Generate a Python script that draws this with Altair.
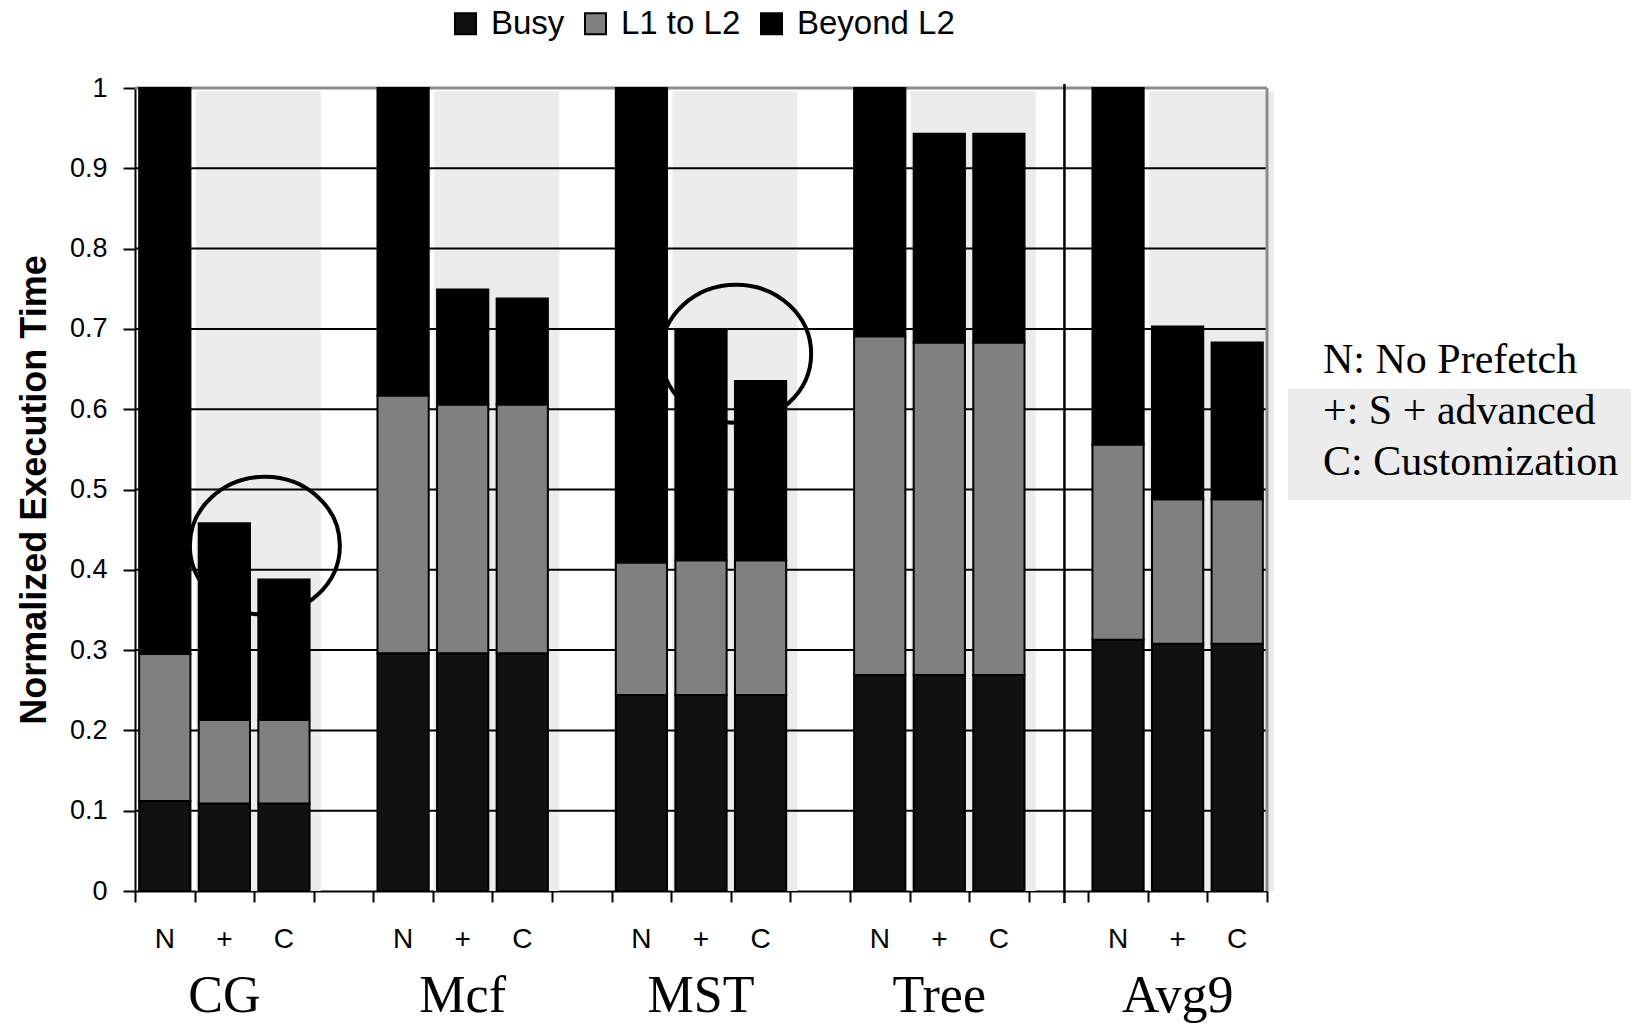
import altair as alt
import pandas as pd

# ---------------- data ----------------
groups = ["CG", "Mcf", "MST", "Tree", "Avg9"]
variants = ["N", "+", "C"]
series = ["Busy", "L1 to L2", "Beyond L2"]
series_colors = ["#111111", "#808080", "#000000"]

busy = [[0.112, 0.109, 0.109], [0.296, 0.296, 0.296], [0.244, 0.244, 0.244],
        [0.269, 0.269, 0.269], [0.313, 0.308, 0.308]]
l1_to_l2 = [[0.183, 0.104, 0.104], [0.321, 0.310, 0.310], [0.165, 0.168, 0.168],
            [0.422, 0.414, 0.414], [0.243, 0.180, 0.180]]
beyond_l2 = [[0.705, 0.245, 0.175], [0.383, 0.143, 0.132], [0.591, 0.288, 0.223],
             [0.309, 0.260, 0.260], [0.444, 0.215, 0.195]]

y_ticks = [0, 0.1, 0.2, 0.3, 0.4, 0.5, 0.6, 0.7, 0.8, 0.9, 1]
notes = ["N: No Prefetch", "+: S + advanced", "C: Customization"]

# highlighted regions (ellipses): centre in slot / value units
highlight_x = [2.18, 10.09]
highlight_y = [0.43, 0.669]

# ---------------- layout helpers ----------------
W, H = 1132, 803
SLOTS_PER_GROUP = 4
N_SLOTS = len(groups) * SLOTS_PER_GROUP - 1
FONT = "Liberation Sans"
SERIF = "Liberation Serif"

rows = []
labels = []
for gi, g in enumerate(groups):
    for vi, v in enumerate(variants):
        slot = gi * SLOTS_PER_GROUP + vi
        base = 0.0
        for s, vals in zip(series, [busy, l1_to_l2, beyond_l2]):
            val = vals[gi][vi]
            rows.append({"group": g, "variant": v, "series": s,
                         "x0": slot + 0.07, "x1": slot + 0.93,
                         "y0": base, "y1": base + val})
            base += val
        labels.append({"xc": slot + 0.5, "label": v})
bars = pd.DataFrame(rows)
var_labels = pd.DataFrame(labels)
group_labels = pd.DataFrame({"xc": [gi * SLOTS_PER_GROUP + 1.5 for gi in range(len(groups))],
                             "label": groups})
shade = pd.DataFrame({"xs": [gi * SLOTS_PER_GROUP + 1.02 for gi in range(len(groups))],
                      "xe": [gi * SLOTS_PER_GROUP + 3.12 for gi in range(len(groups))],
                      "ys": [0.0] * len(groups), "ye": [0.996] * len(groups)})
grid = pd.DataFrame({"y": [t for t in y_ticks if 0 < t < 1]})
top_line = pd.DataFrame({"y": [y_ticks[-1]]})
right_line = pd.DataFrame({"x": [N_SLOTS]})
sep = pd.DataFrame({"x": [(len(groups) - 1) * SLOTS_PER_GROUP - 0.4]})
ell = pd.DataFrame({"x": highlight_x, "y": highlight_y})
one = pd.DataFrame({"a": [0]})

xscale = alt.Scale(domain=[0, N_SLOTS], nice=False, zero=False)
yscale = alt.Scale(domain=[0, 1], nice=False)
xaxis = alt.Axis(values=list(range(N_SLOTS + 1)), labels=False, tickSize=11, tickWidth=2,
                 tickColor="black", domainColor="black", domainWidth=2, grid=False, title=None)
yaxis = alt.Axis(values=y_ticks, format=".1~f", labelFontSize=27, labelFont=FONT,
                 labelColor="black", labelPadding=16, tickSize=12, tickWidth=2,
                 tickColor="black", domainColor="black", domainWidth=2, grid=False,
                 title="Normalized Execution Time", titleFont=FONT, titleFontSize=36,
                 titleFontWeight="bold", titleColor="black", titlePadding=16)


def X(f):
    return alt.X(f, type="quantitative", scale=xscale, axis=xaxis)


def Y(f):
    return alt.Y(f, type="quantitative", scale=yscale, axis=yaxis)


shade_layer = alt.Chart(shade).mark_rect(fill="#ececec").encode(
    x=X("xs"), x2="xe", y=Y("ys"), y2="ye")

grid_layer = alt.Chart(grid).mark_rule(color="black", strokeWidth=2).encode(
    y=Y("y"), x=alt.value(0), x2=alt.value(W))

top_layer = alt.Chart(top_line).mark_rule(color="#8c8c8c", strokeWidth=3).encode(
    y=Y("y"), x=alt.value(0), x2=alt.value(W))

right_layer = alt.Chart(right_line).mark_rule(color="#8c8c8c", strokeWidth=3).encode(
    x=X("x"), y=alt.value(0), y2=alt.value(H))

sep_layer = alt.Chart(sep).mark_rule(color="black", strokeWidth=2.5).encode(
    x=X("x"), y=alt.value(-4), y2=alt.value(H + 12))

ellipse_path = "M -1 0 A 1 0.92 0 1 0 1 0 A 1 0.92 0 1 0 -1 0 Z"
ell_layer = alt.Chart(ell).mark_point(shape=ellipse_path, filled=False, size=22500,
                                      stroke="black", strokeWidth=4, opacity=1).encode(
    x=X("x"), y=Y("y"))

bar_layer = alt.Chart(bars).mark_rect(stroke="black", strokeWidth=2).encode(
    x=X("x0"), x2="x1", y=Y("y0"), y2="y1",
    color=alt.Color("series:N",
                    scale=alt.Scale(domain=series, range=series_colors),
                    sort=series,
                    legend=alt.Legend(orient="none", legendX=314, legendY=-81,
                                      direction="horizontal", title=None,
                                      symbolType="square", symbolSize=441,
                                      symbolStrokeColor="black", symbolStrokeWidth=2,
                                      labelFont=FONT, labelFontSize=33, labelColor="black",
                                      labelOffset=9, columnPadding=14, padding=0)))

var_layer = alt.Chart(var_labels).mark_text(font=FONT, fontSize=28, color="black",
                                            baseline="middle").encode(
    x=X("xc"), y=alt.value(H + 49), text="label:N")

grp_layer = alt.Chart(group_labels).mark_text(font=SERIF, fontSize=52, color="black",
                                              baseline="middle").encode(
    x=X("xc"), y=alt.value(H + 105), text="label:N")

box_layer = alt.Chart(one).mark_rect(fill="#ececec").encode(
    x=alt.value(W + 21), x2=alt.value(W + 364), y=alt.value(301), y2=alt.value(412))

notes_layer = alt.Chart(one).mark_text(text="\n".join(notes), lineBreak="\n", lineHeight=51,
                                       font=SERIF, fontSize=42, color="black",
                                       align="left", baseline="middle").encode(
    x=alt.value(W + 56), y=alt.value(272))

chart = alt.layer(shade_layer, grid_layer, top_layer, right_layer, sep_layer, ell_layer,
                  bar_layer, var_layer, grp_layer, box_layer, notes_layer).properties(
    width=W, height=H,
    padding={"left": 135, "top": 88, "right": 364, "bottom": 134},
    autosize=alt.AutoSizeParams(type="none"),
    background="white",
).configure_view(stroke=None)

chart.save("out.html", embed_options={"renderer": "svg", "actions": False})
